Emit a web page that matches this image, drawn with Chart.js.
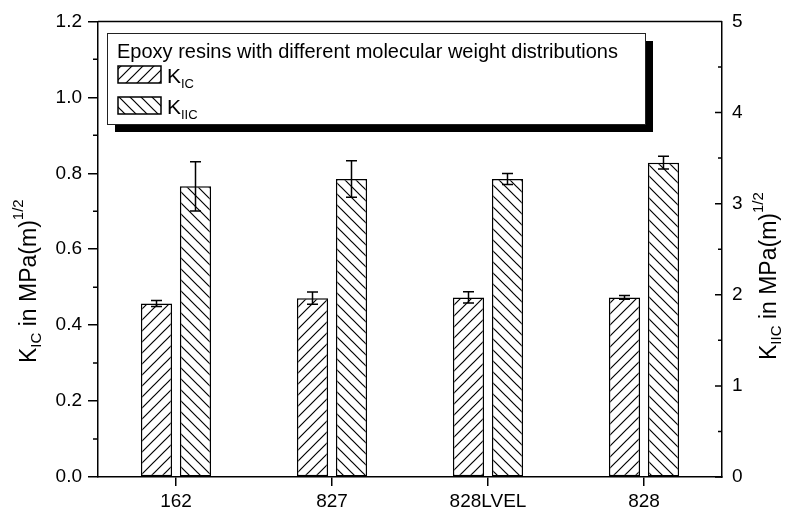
<!DOCTYPE html>
<html>
<head>
<meta charset="utf-8">
<script src="https://cdn.jsdelivr.net/npm/chart.js@4.4.1/dist/chart.umd.min.js"></script>
<style>
  html, body { margin: 0; padding: 0; background: #fff; }
</style>
</head>
<body>
<canvas id="chart" width="792" height="520"></canvas>
<script>
// data
const categories = ['162', '827', '828LVEL', '828'];
const kicValues = [0.457, 0.471, 0.473, 0.473];
const kicErrors = [0.008, 0.016, 0.015, 0.005];
const kiicValues = [3.19, 3.27, 3.27, 3.45];
const kiicErrors = [0.27, 0.20, 0.06, 0.07];
const leftTickValues = [0, 0.2, 0.4, 0.6, 0.8, 1.0, 1.2];
const rightTickValues = [0, 1, 2, 3, 4, 5];
const legendTitle = 'Epoxy resins with different molecular weight distributions';

const FONT = "'Liberation Sans', Arial, sans-serif";

function hatch(dir) {
    const s = 11;
    const c = document.createElement('canvas');
    c.width = s; c.height = s;
    const g = c.getContext('2d');
    g.fillStyle = '#fff';
    g.fillRect(0, 0, s, s);
    g.strokeStyle = '#000';
    g.lineWidth = 1.2;
    g.beginPath();
    if (dir === '/') {
        g.moveTo(-1, s + 1); g.lineTo(s + 1, -1);
        g.moveTo(-2, 2); g.lineTo(2, -2);
        g.moveTo(s - 2, s + 2); g.lineTo(s + 2, s - 2);
    } else {
        g.moveTo(-1, -1); g.lineTo(s + 1, s + 1);
        g.moveTo(-2, s - 2); g.lineTo(2, s + 2);
        g.moveTo(s - 2, -2); g.lineTo(s + 2, 2);
    }
    g.stroke();
    return g.createPattern(c, 'repeat');
}

const ctx = document.getElementById('chart').getContext('2d');
const fwdHatch = hatch('/');
const backHatch = hatch('\\');

// K with sub/superscript, drawn along current x direction
function drawK(g, x, y, sub, rest, sup, big, small) {
    g.font = big + 'px ' + FONT;
    g.fillText('K', x, y);
    x += g.measureText('K').width;
    g.font = small + 'px ' + FONT;
    g.fillText(sub, x, y + small * 0.35);
    x += g.measureText(sub).width;
    if (rest) {
        g.font = big + 'px ' + FONT;
        g.fillText(rest, x, y);
        x += g.measureText(rest).width;
    }
    if (sup) {
        g.font = small + 'px ' + FONT;
        g.fillText(sup, x, y - big * 0.55);
        x += g.measureText(sup).width;
    }
    return x;
}

const errorBars = {
    id: 'errorBars',
    afterDatasetsDraw(chart) {
        const g = chart.ctx;
        g.save();
        g.strokeStyle = '#000';
        g.lineWidth = 1.5;
        chart.data.datasets.forEach((ds, i) => {
            const scale = chart.scales[ds.yAxisID];
            chart.getDatasetMeta(i).data.forEach((bar, j) => {
                const v = ds.data[j], e = ds.errors[j];
                const yt = scale.getPixelForValue(v + e);
                const yb = scale.getPixelForValue(v - e);
                g.beginPath();
                g.moveTo(bar.x, yt); g.lineTo(bar.x, yb);
                g.moveTo(bar.x - 5.5, yt); g.lineTo(bar.x + 5.5, yt);
                g.moveTo(bar.x - 5.5, yb); g.lineTo(bar.x + 5.5, yb);
                g.stroke();
            });
        });
        g.restore();
    }
};

const frame = {
    id: 'frame',
    afterDraw(chart) {
        const g = chart.ctx;
        const a = chart.chartArea;
        const yl = chart.scales.y, yr = chart.scales.y2;
        g.save();
        g.strokeStyle = '#000';
        g.lineWidth = 1.5;
        g.beginPath();
        g.moveTo(a.left, a.top); g.lineTo(a.right, a.top);
        // minor ticks on the left, outward
        for (let k = 0; k < leftTickValues.length - 1; k++) {
            const y = yl.getPixelForValue((leftTickValues[k] + leftTickValues[k + 1]) / 2);
            g.moveTo(a.left - 5, y); g.lineTo(a.left, y);
        }
        // right axis ticks, inward
        rightTickValues.forEach((v, k) => {
            const y = yr.getPixelForValue(v);
            g.moveTo(a.right - 7, y); g.lineTo(a.right, y);
            if (k < rightTickValues.length - 1) {
                const ym = yr.getPixelForValue((v + rightTickValues[k + 1]) / 2);
                g.moveTo(a.right - 4, ym); g.lineTo(a.right, ym);
            }
        });
        g.stroke();

        // axis titles, read bottom to top
        g.fillStyle = '#000';
        g.textBaseline = 'alphabetic';
        const big = 23, small = 15;
        g.save();
        g.translate(36, 363);
        g.rotate(-Math.PI / 2);
        drawK(g, 0, 0, 'IC', ' in MPa(m)', '1/2', big, small);
        g.restore();
        g.save();
        g.translate(776, 360);
        g.rotate(-Math.PI / 2);
        drawK(g, 0, 0, 'IIC', ' in MPa(m)', '1/2', big, small);
        g.restore();

        // legend box with shadow
        const bx = 107, by = 33, bw = 538, bh = 91;
        g.fillStyle = '#000';
        g.fillRect(bx + 8, by + 8, bw, bh);
        g.fillStyle = '#fff';
        g.fillRect(bx, by, bw, bh);
        g.lineWidth = 1;
        g.strokeStyle = '#222';
        g.strokeRect(bx + 0.5, by + 0.5, bw, bh);
        g.fillStyle = '#000';
        g.font = '20px ' + FONT;
        g.fillText(legendTitle, 117, 58);
        const items = [
            { pat: fwdHatch, y: 66, sub: 'IC' },
            { pat: backHatch, y: 97, sub: 'IIC' }
        ];
        items.forEach(it => {
            g.fillStyle = it.pat;
            g.fillRect(118, it.y, 43, 17);
            g.lineWidth = 1.5;
            g.strokeStyle = '#000';
            g.strokeRect(118, it.y, 43, 17);
            g.fillStyle = '#000';
            drawK(g, 167, it.y + 17, it.sub, '', '', 21, 13);
        });
        g.restore();
    }
};

new Chart(ctx, {
    type: 'bar',
    data: {
        labels: categories,
        datasets: [{
            label: 'KIC',
            data: kicValues,
            errors: kicErrors,
            yAxisID: 'y',
            backgroundColor: fwdHatch,
            borderColor: '#000',
            borderWidth: 1.5,
            borderSkipped: false,
            categoryPercentage: 0.5,
            barPercentage: 0.8
        }, {
            label: 'KIIC',
            data: kiicValues,
            errors: kiicErrors,
            yAxisID: 'y2',
            backgroundColor: backHatch,
            borderColor: '#000',
            borderWidth: 1.5,
            borderSkipped: false,
            categoryPercentage: 0.5,
            barPercentage: 0.8
        }]
    },
    options: {
        responsive: false,
        animation: false,
        devicePixelRatio: 1,
        layout: { padding: { top: 18, left: 0, right: 0, bottom: 0 } },
        plugins: {
            legend: { display: false },
            tooltip: { enabled: false }
        },
        scales: {
            x: {
                offset: true,
                grid: { offset: false, drawOnChartArea: false, tickLength: 9, color: '#000', lineWidth: 1.5 },
                border: { color: '#000', width: 1.5 },
                ticks: { color: '#000', font: { family: FONT, size: 19 }, padding: 4, maxRotation: 0 },
                afterFit(s) { s.height = 43; }
            },
            y: {
                position: 'left',
                min: 0, max: 1.2,
                afterBuildTicks(s) { s.ticks = leftTickValues.map(v => ({ value: v })); },
                grid: { drawOnChartArea: false, tickLength: 10, color: '#000', lineWidth: 1.5 },
                border: { color: '#000', width: 1.5 },
                ticks: { color: '#000', font: { family: FONT, size: 19 }, padding: 6,
                    callback: v => v.toFixed(1) },
                afterFit(s) { s.width = 98; }
            },
            y2: {
                position: 'right',
                min: 0, max: 5,
                afterBuildTicks(s) { s.ticks = rightTickValues.map(v => ({ value: v })); },
                grid: { drawOnChartArea: false, drawTicks: false },
                border: { color: '#000', width: 1.5 },
                ticks: { color: '#000', font: { family: FONT, size: 19 }, padding: 10 },
                afterFit(s) { s.width = 70; }
            }
        }
    },
    plugins: [errorBars, frame]
});
</script>
</body>
</html>
